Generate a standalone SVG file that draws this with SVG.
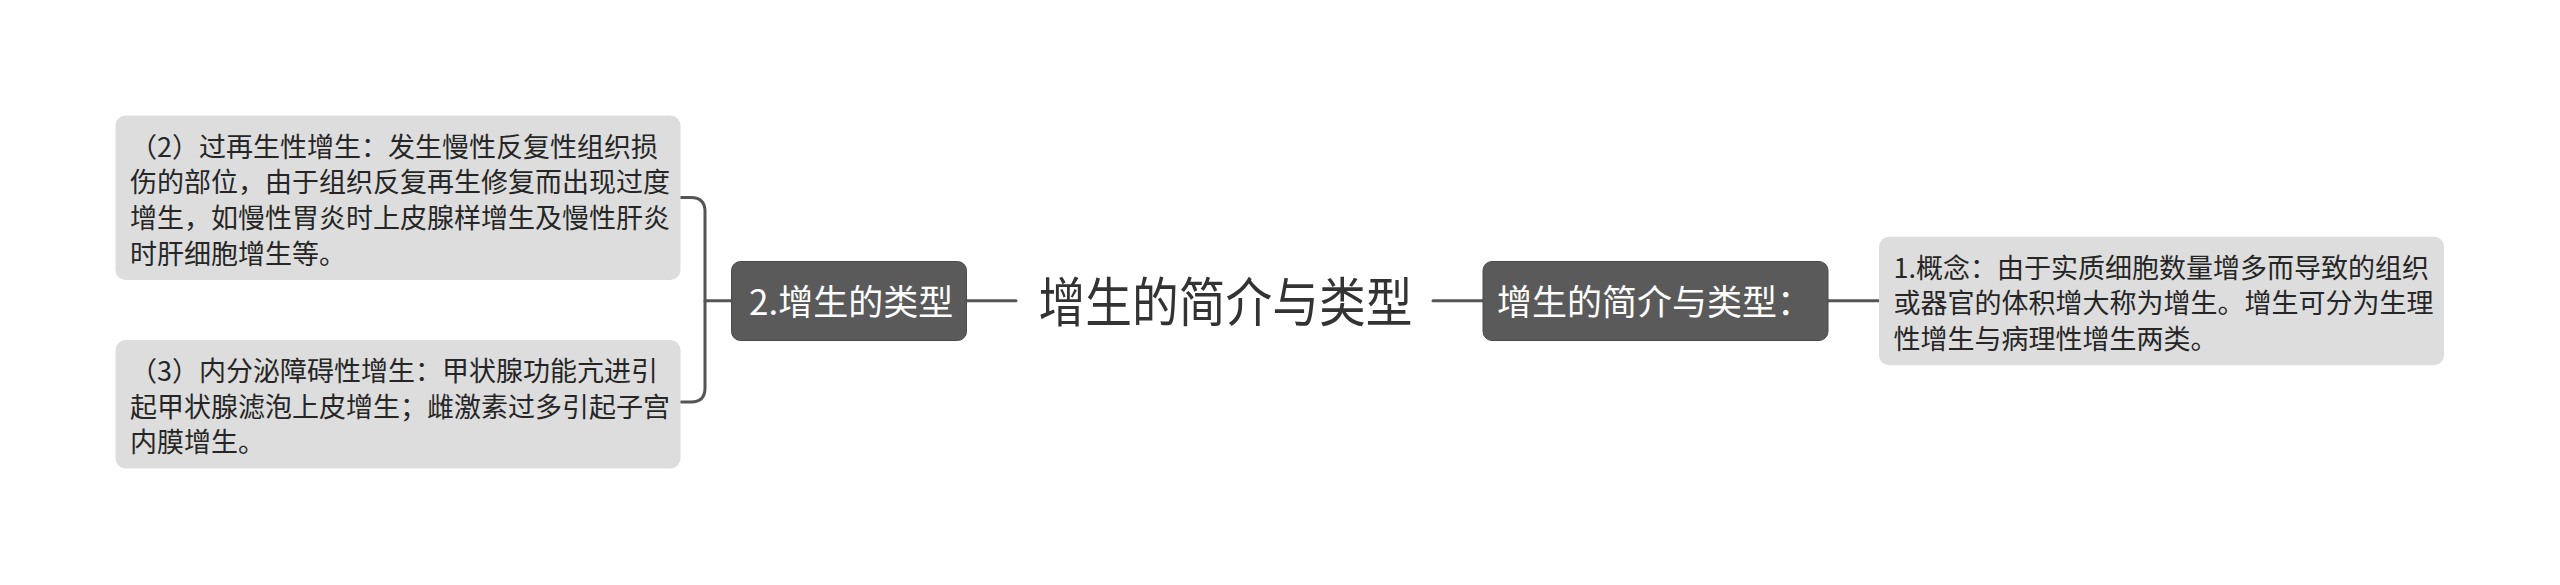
<svg xmlns="http://www.w3.org/2000/svg" width="2560" height="585" viewBox="0 0 2560 585">
<style>
.conn{fill:none;stroke:#555555;stroke-width:3;stroke-linecap:round;stroke-linejoin:round}
.leaf{fill:#dddddd}
.branch{fill:#5a5a5a;stroke:#4a4a4a;stroke-width:1}
.t{font-family:"Noto Sans CJK SC","Noto Sans",sans-serif}
.lt{font-size:27px;fill:#262626}
.bt{font-size:35px;fill:#ffffff}
.rt{font-size:53px;fill:#333333}
</style>
<rect width="2560" height="585" fill="#ffffff"/>
<g id="connectors">
<path class="conn" d="M681,197.5 H691 Q705,197.5 705,211.5 V388 Q705,402 691,402 H681"/>
<path class="conn" d="M705,300.7 H731.5"/>
<path class="conn" d="M967,300.7 H1016"/>
<path class="conn" d="M1433,300.7 H1483"/>
<path class="conn" d="M1828,300.7 H1879"/>
</g>
<g id="root">
<text class="t rt" x="1225.5" y="321.5" text-anchor="middle" textLength="374" lengthAdjust="spacingAndGlyphs">增生的简介与类型</text>
</g>
<g id="node-types">
<rect class="branch" x="731.5" y="261.5" width="235" height="79" rx="9"/>
<text class="t bt" x="749" y="315">2.增生的类型</text>
</g>
<g id="node-intro">
<rect class="branch" x="1483" y="261.5" width="345" height="79" rx="9"/>
<text class="t bt" x="1497" y="315">增生的简介与类型：</text>
</g>
<g id="leaf-2">
<rect class="leaf" x="115.5" y="115.5" width="565" height="164.5" rx="10"/>
<text class="t lt" x="130" y="156.7">（2）过再生性增生：发生慢性反复性组织损</text>
<text class="t lt" x="130" y="192.3">伤的部位，由于组织反复再生修复而出现过度</text>
<text class="t lt" x="130" y="227.9">增生，如慢性胃炎时上皮腺样增生及慢性肝炎</text>
<text class="t lt" x="130" y="263.5">时肝细胞增生等。</text>
</g>
<g id="leaf-3">
<rect class="leaf" x="115.5" y="340" width="565" height="128.5" rx="10"/>
<text class="t lt" x="130" y="381.2">（3）内分泌障碍性增生：甲状腺功能亢进引</text>
<text class="t lt" x="130" y="416.6">起甲状腺滤泡上皮增生；雌激素过多引起子宫</text>
<text class="t lt" x="130" y="452">内膜增生。</text>
</g>
<g id="leaf-1">
<rect class="leaf" x="1879" y="236.7" width="565" height="128.5" rx="10"/>
<text class="t lt" x="1893.5" y="277.8">1.概念：由于实质细胞数量增多而导致的组织</text>
<text class="t lt" x="1893.5" y="313.2">或器官的体积增大称为增生。增生可分为生理</text>
<text class="t lt" x="1893.5" y="348.6">性增生与病理性增生两类。</text>
</g>
</svg>
